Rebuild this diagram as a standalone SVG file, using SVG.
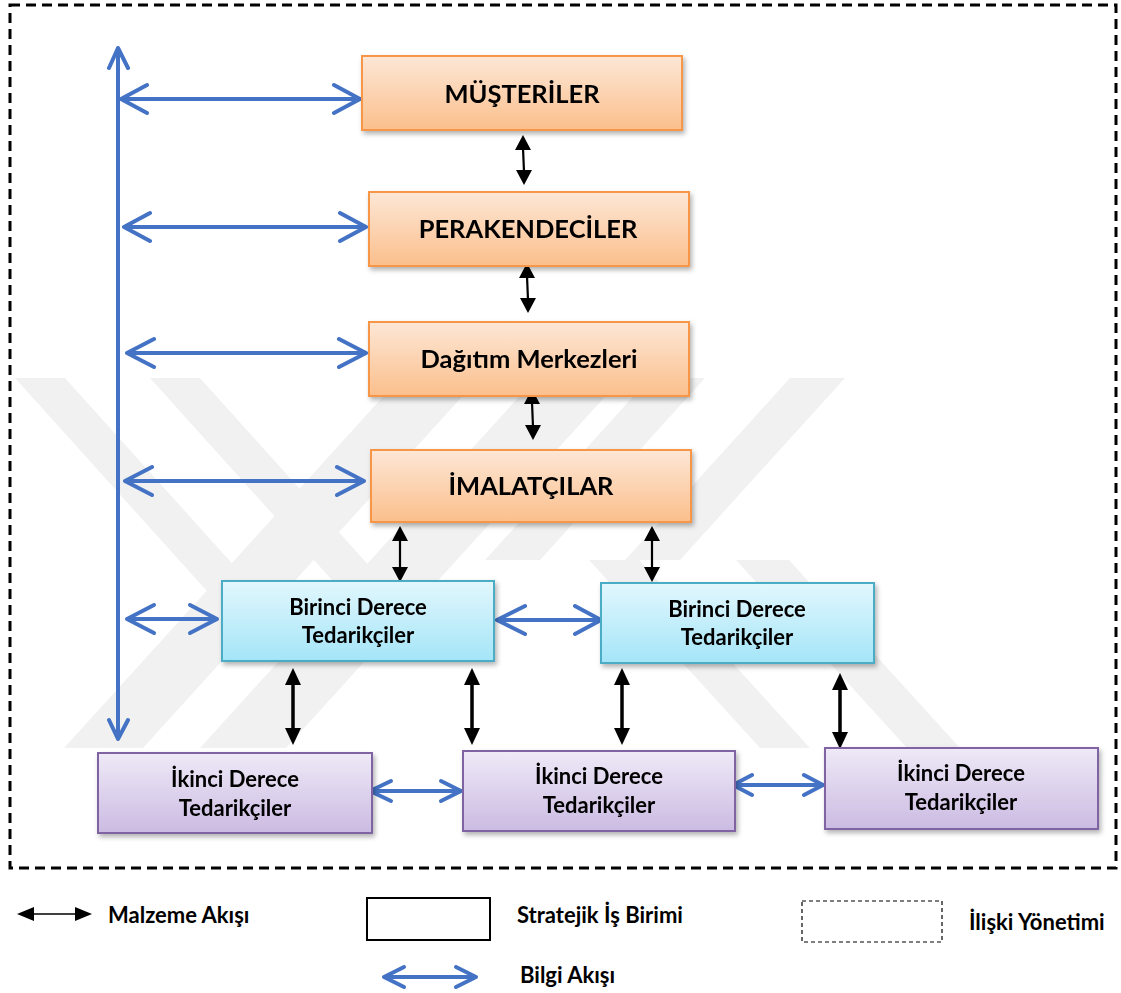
<svg xmlns="http://www.w3.org/2000/svg" width="1121" height="993" viewBox="0 0 1121 993">
  <defs>
    <linearGradient id="gOrange" x1="0" y1="0" x2="0" y2="1">
      <stop offset="0" stop-color="#fde7d6"/>
      <stop offset="1" stop-color="#fbbf8c"/>
    </linearGradient>
    <linearGradient id="gBlue" x1="0" y1="0" x2="0" y2="1">
      <stop offset="0" stop-color="#e2f7fd"/>
      <stop offset="1" stop-color="#a4e5f8"/>
    </linearGradient>
    <linearGradient id="gPurple" x1="0" y1="0" x2="0" y2="1">
      <stop offset="0" stop-color="#efe9f7"/>
      <stop offset="1" stop-color="#cbbbe2"/>
    </linearGradient>
    <filter id="shadow" x="-10%" y="-20%" width="125%" height="150%">
      <feDropShadow dx="2" dy="3" stdDeviation="2.5" flood-color="#000" flood-opacity="0.3"/>
    </filter>
    <clipPath id="wmClip">
      <rect x="0" y="378" width="1121" height="370"/>
    </clipPath>
    <style>
      .lbl { font-family: Lato, "Noto Sans", "Liberation Sans", sans-serif; font-weight: bold; fill: #000; }
      .big { font-size: 25.5px; }
      .mid { font-size: 22px; }
      .leg { font-size: 22px; }
      .orange { fill: url(#gOrange); stroke: #f79646; stroke-width: 2; }
      .blue { fill: url(#gBlue); stroke: #4bacc6; stroke-width: 2; }
      .purple { fill: url(#gPurple); stroke: #8064a2; stroke-width: 2; }
      .info { fill: none; stroke: #4472c4; stroke-width: 4; stroke-linecap: round; stroke-linejoin: round; }
      .mat { stroke: #000; stroke-width: 2.2; fill: none; }
      .matThick { stroke: #000; stroke-width: 3.5; fill: none; }
      .head { fill: #000; }
      .wm { fill: #f1f1f1; }
    </style>
  </defs>

  <rect x="0" y="0" width="1121" height="993" fill="#fff"/>

  <!-- faint background emblem -->
  <g id="watermark" clip-path="url(#wmClip)">
    <!-- left arms running down to the right -->
    <polygon class="wm" points="15,378 65,378 265,600 215,600"/>
    <polygon class="wm" points="150,378 200,378 400,600 350,600"/>
    <!-- long strokes running down to the left -->
    <polygon class="wm" points="400,378 479,378 143,748 64,748"/>
    <polygon class="wm" points="536,378 622,378 286,748 200,748"/>
    <!-- right arms -->
    <polygon class="wm" points="650,378 705,378 540,560 485,560"/>
    <polygon class="wm" points="790,378 845,378 680,560 625,560"/>
    <polygon class="wm" points="589,560 639,560 810,748 760,748"/>
    <polygon class="wm" points="736,560 789,560 960,748 907,748"/>
  </g>

  <!-- outer relationship-management frame -->
  <rect id="frame" x="10" y="5" width="1106" height="863" fill="none" stroke="#000" stroke-width="3" stroke-dasharray="10 6"/>

  <!-- connectors -->
  <g id="connectors">
    <!-- information flow (blue, open heads) -->
    <path class="info" d="M118 48 V739 M109 68 L118 48 L128 68 M109 720 L118 739 L128 720"/>
    <path class="info" d="M121 99 H360 M147 85 L121 99 L147 113 M334 85 L360 99 L334 113"/>
    <path class="info" d="M124 227 H366 M150 213 L124 227 L150 241 M340 213 L366 227 L340 241"/>
    <path class="info" d="M127 353 H366 M154 339 L127 353 L154 367 M339 339 L366 353 L339 367"/>
    <path class="info" d="M125 481 H364 M152 467 L125 481 L152 495 M337 467 L364 481 L337 495"/>
    <path class="info" d="M127 619 H217 M154 605 L127 619 L154 633 M190 605 L217 619 L190 633"/>
    <path class="info" d="M497 620 H601 M525 606 L497 620 L525 634 M575 606 L601 620 L575 634"/>
    <path class="info" d="M370 791 H461 M391 781 L370 791 L391 801 M441 781 L461 791 L441 801"/>
    <path class="info" d="M733 785 H823 M752 775 L733 785 L752 795 M804 775 L823 785 L804 795"/>

    <!-- material flow (black, filled heads) -->
    <line class="mat" x1="523" y1="148" x2="524" y2="172"/>
    <polygon class="head" points="523,135 515,150 531,150"/>
    <polygon class="head" points="524,185 516,170 532,170"/>

    <line class="mat" x1="527" y1="276" x2="528" y2="300"/>
    <polygon class="head" points="527,263 519,278 535,278"/>
    <polygon class="head" points="528,313 520,298 536,298"/>

    <line class="mat" x1="532" y1="402" x2="533" y2="427"/>
    <polygon class="head" points="532,389 524,404 540,404"/>
    <polygon class="head" points="533,440 525,425 541,425"/>

    <line class="mat" x1="400" y1="539" x2="400" y2="568"/>
    <polygon class="head" points="400,526 392,541 408,541"/>
    <polygon class="head" points="400,582 392,567 408,567"/>

    <line class="mat" x1="652" y1="539" x2="652" y2="568"/>
    <polygon class="head" points="652,526 644,541 660,541"/>
    <polygon class="head" points="652,582 644,567 660,567"/>

    <line class="matThick" x1="293" y1="683" x2="293" y2="730"/>
    <polygon class="head" points="293,668 285,685 301,685"/>
    <polygon class="head" points="293,745 285,728 301,728"/>

    <line class="matThick" x1="472" y1="683" x2="472" y2="730"/>
    <polygon class="head" points="472,668 464,685 480,685"/>
    <polygon class="head" points="472,745 464,728 480,728"/>

    <line class="matThick" x1="622" y1="683" x2="622" y2="730"/>
    <polygon class="head" points="622,668 614,685 630,685"/>
    <polygon class="head" points="622,745 614,728 630,728"/>

    <line class="matThick" x1="840" y1="688" x2="840" y2="734"/>
    <polygon class="head" points="840,673 832,690 848,690"/>
    <polygon class="head" points="840,749 832,732 848,732"/>
  </g>

  <!-- strategic business units -->
  <g id="musteriler" filter="url(#shadow)">
    <rect class="orange" x="362" y="56" width="320" height="74"/>
    <text class="lbl big" x="522" y="103" text-anchor="middle">MÜŞTERİLER</text>
  </g>
  <g id="perakendeciler" filter="url(#shadow)">
    <rect class="orange" x="369" y="192" width="320" height="74"/>
    <text class="lbl big" x="528" y="238" text-anchor="middle">PERAKENDECİLER</text>
  </g>
  <g id="dagitim" filter="url(#shadow)">
    <rect class="orange" x="369" y="322" width="320" height="74"/>
    <text class="lbl big" x="529" y="368" text-anchor="middle">Dağıtım Merkezleri</text>
  </g>
  <g id="imalatcilar" filter="url(#shadow)">
    <rect class="orange" x="371" y="450" width="320" height="72"/>
    <text class="lbl big" x="531" y="495" text-anchor="middle">İMALATÇILAR</text>
  </g>

  <g id="birinci1" filter="url(#shadow)">
    <rect class="blue" x="222" y="581" width="272" height="80"/>
    <text class="lbl mid" x="358" y="615" text-anchor="middle">Birinci Derece</text>
    <text class="lbl mid" x="358" y="643" text-anchor="middle">Tedarikçiler</text>
  </g>
  <g id="birinci2" filter="url(#shadow)">
    <rect class="blue" x="601" y="583" width="273" height="80"/>
    <text class="lbl mid" x="737" y="617" text-anchor="middle">Birinci Derece</text>
    <text class="lbl mid" x="737" y="645" text-anchor="middle">Tedarikçiler</text>
  </g>

  <g id="ikinci1" filter="url(#shadow)">
    <rect class="purple" x="98" y="753" width="274" height="80"/>
    <text class="lbl mid" x="235" y="787" text-anchor="middle">İkinci Derece</text>
    <text class="lbl mid" x="235" y="816" text-anchor="middle">Tedarikçiler</text>
  </g>
  <g id="ikinci2" filter="url(#shadow)">
    <rect class="purple" x="463" y="751" width="272" height="80"/>
    <text class="lbl mid" x="599" y="784" text-anchor="middle">İkinci Derece</text>
    <text class="lbl mid" x="599" y="813" text-anchor="middle">Tedarikçiler</text>
  </g>
  <g id="ikinci3" filter="url(#shadow)">
    <rect class="purple" x="825" y="748" width="273" height="81"/>
    <text class="lbl mid" x="961" y="781" text-anchor="middle">İkinci Derece</text>
    <text class="lbl mid" x="961" y="810" text-anchor="middle">Tedarikçiler</text>
  </g>

  <!-- legend -->
  <g id="legend">
    <line x1="30" y1="914" x2="78" y2="914" stroke="#000" stroke-width="1.6"/>
    <polygon points="17,914 34,907 34,921" fill="#000"/>
    <polygon points="92,914 75,907 75,921" fill="#000"/>
    <text class="lbl leg" x="108" y="923">Malzeme Akışı</text>

    <rect x="367" y="898" width="123" height="42" fill="none" stroke="#000" stroke-width="2"/>
    <text class="lbl leg" x="517" y="923">Stratejik İş Birimi</text>

    <rect x="802" y="901" width="140" height="41" fill="none" stroke="#000" stroke-width="1.2" stroke-dasharray="4 3"/>
    <text class="lbl leg" x="969" y="930">İlişki Yönetimi</text>

    <path class="info" d="M384 977 H476 M404 967 L384 977 L404 987 M456 967 L476 977 L456 987"/>
    <text class="lbl leg" x="520" y="983">Bilgi Akışı</text>
  </g>
</svg>
